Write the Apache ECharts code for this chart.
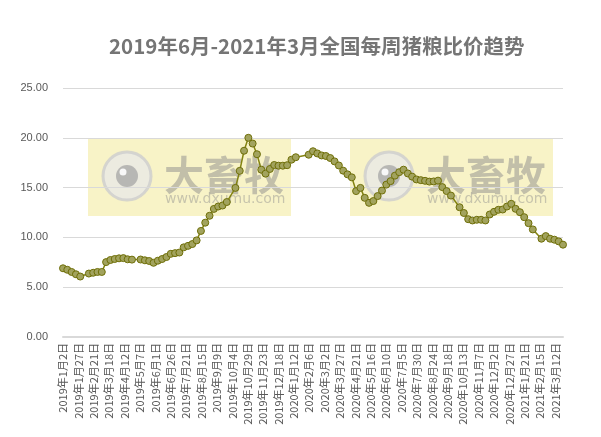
<!DOCTYPE html>
<html><head><meta charset="utf-8">
<script src="https://cdn.jsdelivr.net/npm/echarts@6/dist/echarts.min.js"></script>
<style>html,body{margin:0;padding:0;background:#fff}#c{width:601px;height:437px}</style>
</head><body><div id="c"></div>
<script>
const titleText = '2019年6月-2021年3月全国每周猪粮比价趋势';
const axisStart = '2019-01-02';
const axisEnd = '2021-03-24';
const labelEveryDays = 25;
const yMin = 0, yMax = 25, yStep = 5;

const pointDates = [
  '2019-01-02','2019-01-09','2019-01-16','2019-01-23','2019-01-30',
  '2019-02-13','2019-02-20','2019-02-27','2019-03-06','2019-03-13','2019-03-20','2019-03-27',
  '2019-04-03','2019-04-10','2019-04-17','2019-04-24',
  '2019-05-08','2019-05-15','2019-05-22','2019-05-29','2019-06-05','2019-06-12','2019-06-19','2019-06-26',
  '2019-07-03','2019-07-10','2019-07-17','2019-07-24','2019-07-31','2019-08-07','2019-08-14','2019-08-21',
  '2019-08-28','2019-09-04','2019-09-11','2019-09-18','2019-09-25',
  '2019-10-09','2019-10-16','2019-10-23','2019-10-30','2019-11-06','2019-11-13','2019-11-20','2019-11-27',
  '2019-12-04','2019-12-11','2019-12-18','2019-12-25','2020-01-01','2020-01-08','2020-01-15',
  '2020-02-05','2020-02-12','2020-02-19','2020-02-26','2020-03-04','2020-03-11','2020-03-18','2020-03-25',
  '2020-04-01','2020-04-08','2020-04-15','2020-04-22','2020-04-29','2020-05-06','2020-05-13','2020-05-20',
  '2020-05-27','2020-06-03','2020-06-10','2020-06-17','2020-06-24','2020-07-01','2020-07-08','2020-07-15',
  '2020-07-22','2020-07-29','2020-08-05','2020-08-12','2020-08-19','2020-08-26','2020-09-02','2020-09-09',
  '2020-09-16','2020-09-23',
  '2020-10-07','2020-10-14','2020-10-21','2020-10-28','2020-11-04','2020-11-11','2020-11-18','2020-11-25',
  '2020-12-02','2020-12-09','2020-12-16','2020-12-23','2020-12-30','2021-01-06','2021-01-13','2021-01-20',
  '2021-01-27','2021-02-03',
  '2021-02-17','2021-02-24','2021-03-03','2021-03-10','2021-03-17','2021-03-24'
];
const pointValues = [
  6.90,6.75,6.53,6.30,6.07,
  6.37,6.45,6.53,6.53,7.52,7.73,7.83,
  7.90,7.92,7.80,7.77,
  7.78,7.70,7.63,7.45,7.66,7.83,8.03,8.35,
  8.42,8.48,9.00,9.15,9.33,9.70,10.65,11.48,
  12.17,12.86,13.10,13.20,13.55,
  14.97,16.68,18.70,20.00,19.42,18.35,16.80,16.40,
  16.87,17.27,17.20,17.20,17.25,17.80,18.05,
  18.30,18.65,18.43,18.23,18.17,17.97,17.63,17.22,
  16.70,16.33,16.03,14.65,14.97,13.97,13.47,13.65,
  14.15,14.70,15.30,15.65,16.20,16.55,16.80,16.42,
  16.10,15.82,15.75,15.68,15.60,15.62,15.70,15.05,
  14.65,14.20,
  13.03,12.45,11.83,11.70,11.77,11.77,11.70,12.30,
  12.57,12.77,12.80,13.10,13.37,12.87,12.53,12.03,
  11.43,10.80,
  9.87,10.13,9.87,9.77,9.60,9.27
];

// daily category axis (Excel-style date axis)
const DAY = 86400000;
function toUTC(s){ const p = s.split('-').map(Number); return Date.UTC(p[0], p[1]-1, p[2]); }
function fmtCN(t){ const d = new Date(t); return d.getUTCFullYear()+'年'+(d.getUTCMonth()+1)+'月'+d.getUTCDate()+'日'; }
const t0 = toUTC(axisStart), t1 = toUTC(axisEnd);
const categories = [];
for (let t = t0; t <= t1; t += DAY) categories.push(fmtCN(t));
const seriesData = pointDates.map((d, i) => [Math.round((toUTC(d) - t0) / DAY), pointValues[i]]);

function watermark(x0){
  const y0 = 138, w = 203, h = 78;
  return {
    type: 'group', z: 100,
    children: [
      { type: 'rect', shape: { x: x0, y: y0, width: w, height: h },
        style: { fill: 'rgba(240,228,130,0.45)' } },
      { type: 'circle', shape: { cx: x0 + 39, cy: y0 + 38, r: 24 },
        style: { fill: 'rgba(232,232,232,0.75)', stroke: 'rgba(205,205,205,0.8)', lineWidth: 3 } },
      { type: 'circle', shape: { cx: x0 + 39, cy: y0 + 38, r: 11 },
        style: { fill: 'rgba(165,165,165,0.75)' } },
      { type: 'circle', shape: { cx: x0 + 35, cy: y0 + 34, r: 3.5 },
        style: { fill: 'rgba(255,255,255,0.9)' } },
      { type: 'text', x: x0 + 76, y: y0 + 37,
        style: { text: '大畜牧', font: 'bold 40px "Noto Sans CJK SC"', fill: 'rgba(140,140,140,0.5)',
                 textVerticalAlign: 'middle', textAlign: 'left' } },
      { type: 'text', x: x0 + 77, y: y0 + 61,
        style: { text: 'www.dxumu.com', font: '14px "DejaVu Sans"', fill: 'rgba(140,140,140,0.45)',
                 textVerticalAlign: 'middle', textAlign: 'left' } }
    ]
  };
}

const chart = echarts.init(document.getElementById('c'), null, { renderer: 'canvas' });
chart.setOption({
  animation: false,
  backgroundColor: '#ffffff',
  title: {
    text: titleText, left: 104, top: 31,
    textStyle: { fontFamily: '"Noto Sans CJK SC"', fontSize: 20.5, fontWeight: 'bold', color: '#757575' }
  },
  grid: { left: 63, right: 38, top: 88, bottom: 100 },
  xAxis: {
    type: 'category', data: categories, boundaryGap: false,
    axisLine: { show: true, lineStyle: { color: '#d9d9d9', width: 2 } },
    axisTick: { show: false },
    axisLabel: {
      interval: labelEveryDays - 1, rotate: 90, margin: 6,
      fontFamily: '"Noto Sans CJK SC"', fontSize: 11, color: '#595959'
    },
    splitLine: { show: false }
  },
  yAxis: {
    type: 'value', min: yMin, max: yMax, interval: yStep,
    axisLine: { show: false }, axisTick: { show: false },
    axisLabel: { margin: 15, fontFamily: '"Liberation Sans", "Noto Sans"', fontSize: 11, color: '#595959',
                 formatter: v => v.toFixed(2) },
    splitLine: { lineStyle: { color: '#d9d9d9', width: 1 } }
  },
  series: [{
    type: 'line', data: seriesData, connectNulls: true,
    symbol: 'circle', symbolSize: 7, showSymbol: true, showAllSymbol: true,
    lineStyle: { color: '#838310', width: 1.5 },
    itemStyle: { color: '#a2a35e', borderColor: '#6f6f08', borderWidth: 1 }
  }],
  graphic: [ watermark(88), watermark(350) ]
});
</script>
</body></html>
